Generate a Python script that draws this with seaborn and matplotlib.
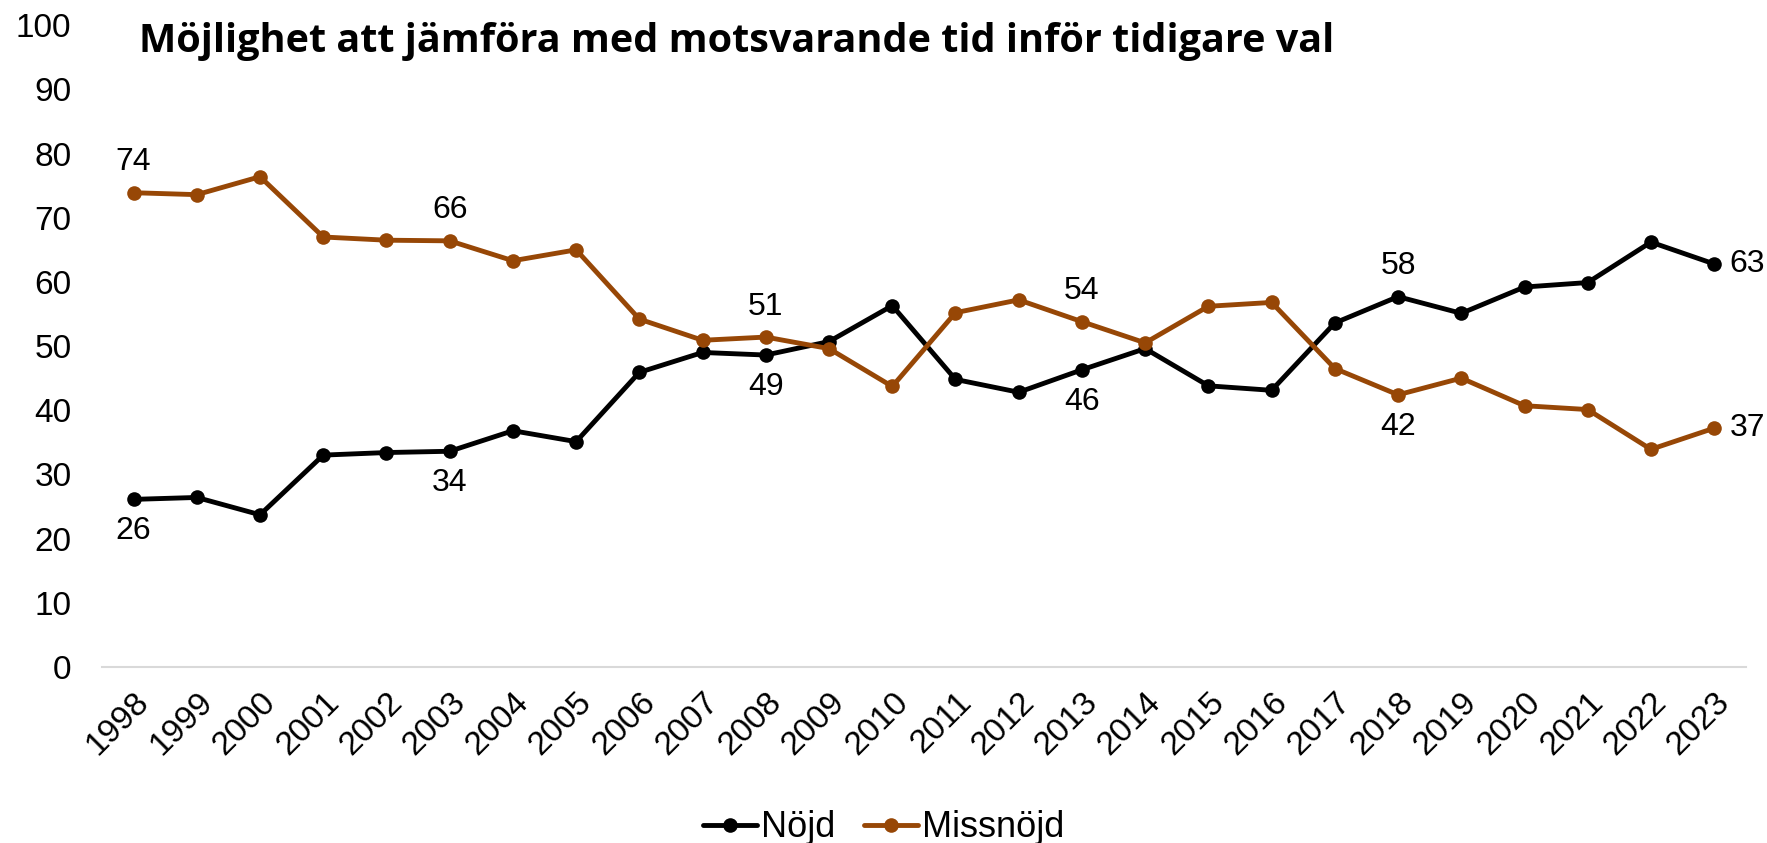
import matplotlib
matplotlib.use("Agg")
import matplotlib.pyplot as plt
import pandas as pd
import seaborn as sns

YEARS = [str(y) for y in range(1998, 2024)]
NOJD = [26.1, 26.4, 23.7, 33.0, 33.4, 33.6, 36.8, 35.1, 45.9, 49.0, 48.6, 50.7, 56.3,
        44.8, 42.8, 46.3, 49.6, 43.8, 43.1, 53.6, 57.7, 55.1, 59.2, 59.9, 66.2, 62.8]
MISSNOJD = [73.9, 73.6, 76.4, 67.0, 66.5, 66.4, 63.3, 65.0, 54.2, 50.9, 51.4, 49.6, 43.7,
            55.2, 57.2, 53.8, 50.5, 56.2, 56.8, 46.5, 42.4, 45.0, 40.7, 40.1, 33.9, 37.2]
SERIES = ["Nöjd", "Missnöjd"]
COLORS = ["#000000", "#974706"]
TITLE = "Möjlighet att jämföra med motsvarande tid inför tidigare val"

# labelled points: (year, series, placement)
LABELS = [
    ("1998", "Nöjd", "below"), ("1998", "Missnöjd", "above"),
    ("2003", "Nöjd", "below"), ("2003", "Missnöjd", "above"),
    ("2008", "Nöjd", "below"), ("2008", "Missnöjd", "above"),
    ("2013", "Nöjd", "below"), ("2013", "Missnöjd", "above"),
    ("2018", "Nöjd", "above"), ("2018", "Missnöjd", "below"),
    ("2023", "Nöjd", "right"), ("2023", "Missnöjd", "right"),
]

df = pd.DataFrame({
    "År": YEARS * 2,
    "Andel": NOJD + MISSNOJD,
    "Serie": ["Nöjd"] * len(YEARS) + ["Missnöjd"] * len(YEARS),
})

sns.set_theme(style="white")
plt.rcParams["font.family"] = ["Liberation Sans", "DejaVu Sans"]
plt.rcParams["text.color"] = "black"

fig = plt.figure(figsize=(17.67, 8.43), dpi=100)
ax = fig.add_axes([0.0577, 0.209, 0.9303, 0.761])

sns.lineplot(
    data=df, x="År", y="Andel", hue="Serie", hue_order=SERIES,
    palette=COLORS, marker="o", markersize=10.5, markeredgewidth=0,
    linewidth=3.5, sort=False, ax=ax,
)

ax.set_xlim(-0.5, len(YEARS) - 0.5)
ax.set_ylim(0, 100)
ax.set_yticks(range(0, 101, 10))
ax.set_xlabel("")
ax.set_ylabel("")
for side in ["top", "right", "left"]:
    ax.spines[side].set_visible(False)
ax.spines["bottom"].set_color("#d9d9d9")
ax.spines["bottom"].set_linewidth(1.5)
ax.tick_params(axis="both", length=0, labelsize=24, colors="black")
ax.tick_params(axis="y", pad=22)
plt.setp(ax.get_xticklabels(), rotation=45, ha="right", rotation_mode="anchor")
ax.tick_params(axis="x", pad=14)

values = {"Nöjd": NOJD, "Missnöjd": MISSNOJD}
offsets = {"above": (0, 22, "center", "center"), "below": (0, -23, "center", "center"),
           "right": (11, 0, "left", "center")}
for year, serie, place in LABELS:
    i = YEARS.index(year)
    v = values[serie][i]
    dx, dy, ha, va = offsets[place]
    ax.annotate(f"{round(v):d}", (i, v), xytext=(dx, dy), textcoords="offset points",
                ha=ha, va=va, fontsize=23, color="black")

fig.text(0.0787, 0.938, TITLE, fontsize=28.5, fontweight="bold", color="black",
         family=["Open Sans", "DejaVu Sans"], ha="left", va="baseline")

# legend centred on the figure, not the axes
leg = ax.legend(loc="lower center", bbox_to_anchor=(0.5, -0.02), bbox_transform=fig.transFigure,
                ncol=2, frameon=False, fontsize=26, handlelength=1.5,
                handletextpad=0.1, columnspacing=0.8, borderaxespad=0.0)
for h in leg.get_lines():
    h.set_linewidth(3.5)
for t in leg.get_texts():
    t.set_color("black")

fig.savefig("out.png", dpi=100)
